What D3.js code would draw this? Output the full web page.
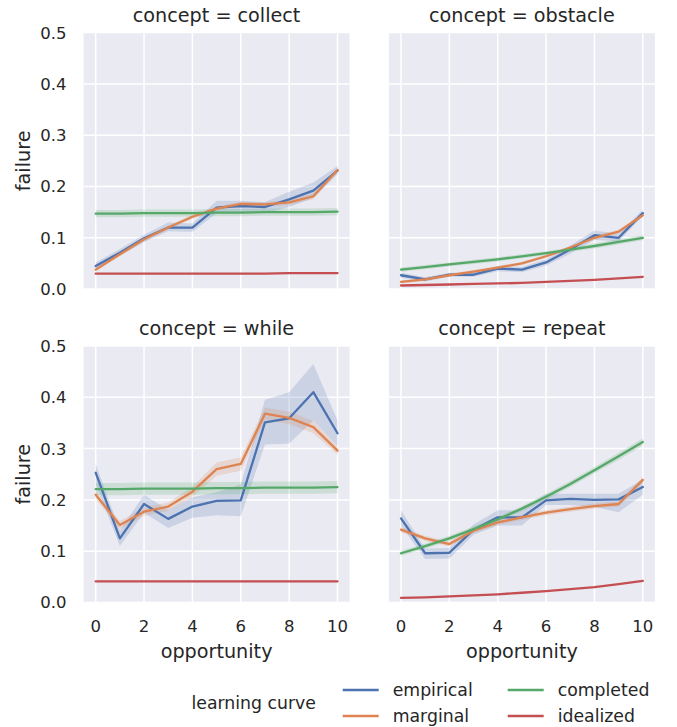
<!DOCTYPE html>
<html><head><meta charset="utf-8">
<script src="https://cdn.jsdelivr.net/npm/d3@7"></script>
<style>body{margin:0;background:#fff;} text{font-family:"DejaVu Sans",sans-serif;fill:#262626;}</style>
</head><body>
<svg id="chart" width="677" height="727"></svg>
<script>
const opportunity = [0,1,2,3,4,5,6,7,8,9,10];
const xTicks = [0,2,4,6,8,10];
const yTicks = [0,0.1,0.2,0.3,0.4,0.5];
const concepts = ["collect","obstacle","while","repeat"];
const seriesNames = ["empirical","marginal","completed","idealized"];
const seriesColors = ["#4c72b0","#dd8452","#55a868","#c44e52"];

// collect
const collectEmpirical   = [0.045,0.071,0.099,0.120,0.120,0.159,0.162,0.160,0.175,0.192,0.231];
const collectEmpiricalLo = [0.040,0.065,0.092,0.113,0.112,0.148,0.150,0.148,0.160,0.178,0.224];
const collectEmpiricalHi = [0.052,0.078,0.106,0.130,0.128,0.172,0.172,0.170,0.190,0.208,0.240];
const collectMarginal    = [0.038,0.068,0.097,0.120,0.141,0.157,0.166,0.165,0.169,0.181,0.232];
const collectMarginalErr = [0.004,0.004,0.004,0.004,0.004,0.004,0.004,0.004,0.005,0.006,0.005];
const collectCompleted   = [0.147,0.147,0.148,0.148,0.148,0.149,0.149,0.150,0.150,0.150,0.151];
const collectCompletedErr= [0.007,0.007,0.007,0.007,0.007,0.007,0.007,0.007,0.007,0.007,0.007];
const collectIdealized   = [0.030,0.030,0.030,0.030,0.030,0.030,0.030,0.030,0.031,0.031,0.031];

// obstacle
const obstacleEmpirical   = [0.027,0.019,0.028,0.028,0.040,0.038,0.052,0.077,0.105,0.100,0.148];
const obstacleEmpiricalLo = [0.022,0.015,0.024,0.024,0.035,0.033,0.046,0.069,0.096,0.093,0.142];
const obstacleEmpiricalHi = [0.032,0.023,0.032,0.032,0.045,0.043,0.058,0.085,0.114,0.108,0.155];
const obstacleMarginal    = [0.014,0.019,0.027,0.034,0.042,0.050,0.064,0.081,0.100,0.112,0.144];
const obstacleMarginalErr = [0.003,0.003,0.003,0.003,0.003,0.003,0.003,0.003,0.004,0.004,0.004];
const obstacleCompleted   = [0.038,0.043,0.048,0.053,0.058,0.064,0.070,0.077,0.084,0.092,0.100];
const obstacleCompletedErr= [0.004,0.004,0.004,0.004,0.004,0.004,0.004,0.004,0.005,0.005,0.005];
const obstacleIdealized   = [0.007,0.008,0.009,0.010,0.011,0.012,0.014,0.016,0.018,0.021,0.024];

// while
const whileEmpirical   = [0.253,0.125,0.192,0.163,0.187,0.198,0.199,0.351,0.359,0.410,0.330];
const whileEmpiricalLo = [0.232,0.110,0.175,0.145,0.165,0.170,0.168,0.308,0.310,0.355,0.305];
const whileEmpiricalHi = [0.270,0.140,0.210,0.180,0.205,0.215,0.230,0.395,0.410,0.465,0.355];
const whileMarginal    = [0.210,0.151,0.177,0.187,0.216,0.260,0.270,0.368,0.360,0.342,0.296];
const whileMarginalErr = [0.008,0.008,0.008,0.008,0.010,0.013,0.013,0.012,0.012,0.012,0.008];
const whileCompleted   = [0.221,0.221,0.222,0.222,0.222,0.223,0.223,0.224,0.224,0.224,0.225];
const whileCompletedErr= [0.012,0.012,0.012,0.012,0.012,0.012,0.012,0.012,0.012,0.012,0.012];
const whileIdealized   = [0.041,0.041,0.041,0.041,0.041,0.041,0.041,0.041,0.041,0.041,0.041];

// repeat
const repeatEmpirical   = [0.164,0.096,0.097,0.142,0.166,0.166,0.199,0.202,0.200,0.201,0.225];
const repeatEmpiricalLo = [0.150,0.085,0.086,0.132,0.150,0.150,0.190,0.190,0.186,0.176,0.210];
const repeatEmpiricalHi = [0.180,0.105,0.106,0.152,0.180,0.180,0.212,0.212,0.212,0.212,0.240];
const repeatMarginal    = [0.142,0.125,0.114,0.140,0.156,0.166,0.175,0.182,0.188,0.192,0.239];
const repeatMarginalErr = [0.005,0.005,0.005,0.005,0.005,0.005,0.005,0.005,0.005,0.005,0.006];
const repeatCompleted   = [0.096,0.110,0.125,0.143,0.162,0.183,0.206,0.231,0.258,0.285,0.313];
const repeatCompletedErr= [0.005,0.005,0.005,0.005,0.005,0.005,0.006,0.006,0.006,0.007,0.007];
const repeatIdealized   = [0.009,0.010,0.012,0.014,0.016,0.019,0.022,0.026,0.030,0.036,0.042];

function bandFromErr(v, e){ return {lo: v.map((d,i)=>d-e[i]), hi: v.map((d,i)=>d+e[i])}; }

const panelData = {
  collect: [
    {v: collectEmpirical, lo: collectEmpiricalLo, hi: collectEmpiricalHi},
    Object.assign({v: collectMarginal}, bandFromErr(collectMarginal, collectMarginalErr)),
    Object.assign({v: collectCompleted}, bandFromErr(collectCompleted, collectCompletedErr)),
    {v: collectIdealized}
  ],
  obstacle: [
    {v: obstacleEmpirical, lo: obstacleEmpiricalLo, hi: obstacleEmpiricalHi},
    Object.assign({v: obstacleMarginal}, bandFromErr(obstacleMarginal, obstacleMarginalErr)),
    Object.assign({v: obstacleCompleted}, bandFromErr(obstacleCompleted, obstacleCompletedErr)),
    {v: obstacleIdealized}
  ],
  while: [
    {v: whileEmpirical, lo: whileEmpiricalLo, hi: whileEmpiricalHi},
    Object.assign({v: whileMarginal}, bandFromErr(whileMarginal, whileMarginalErr)),
    Object.assign({v: whileCompleted}, bandFromErr(whileCompleted, whileCompletedErr)),
    {v: whileIdealized}
  ],
  repeat: [
    {v: repeatEmpirical, lo: repeatEmpiricalLo, hi: repeatEmpiricalHi},
    Object.assign({v: repeatMarginal}, bandFromErr(repeatMarginal, repeatMarginalErr)),
    Object.assign({v: repeatCompleted}, bandFromErr(repeatCompleted, repeatCompletedErr)),
    {v: repeatIdealized}
  ]
};

const svg = d3.select("#chart");
svg.append("rect").attr("width",677).attr("height",727).attr("fill","#fff");

const panelW = 266, panelH = 256.5;
const colX = [83.6, 388.9];
const rowY = [32.6, 346];

concepts.forEach((c, k) => {
  const col = k % 2, row = Math.floor(k / 2);
  const x0 = colX[col], y0 = rowY[row];
  const x = d3.scaleLinear().domain([-0.5, 10.5]).range([x0, x0 + panelW]);
  const y = d3.scaleLinear().domain([0, 0.5]).range([y0 + panelH, y0]);
  const g = svg.append("g");
  g.append("rect").attr("x", x0).attr("y", y0).attr("width", panelW).attr("height", panelH).attr("fill", "#eaeaf2");
  // grid
  g.selectAll(".gx").data(xTicks).enter().append("line")
    .attr("x1", d => x(d)).attr("x2", d => x(d)).attr("y1", y0).attr("y2", y0 + panelH)
    .attr("stroke", "#fff").attr("stroke-width", 1.5);
  g.selectAll(".gy").data(yTicks).enter().append("line")
    .attr("y1", d => y(d)).attr("y2", d => y(d)).attr("x1", x0).attr("x2", x0 + panelW)
    .attr("stroke", "#fff").attr("stroke-width", 1.5);

  const clipId = "clip" + k;
  svg.append("clipPath").attr("id", clipId).append("rect")
    .attr("x", x0).attr("y", y0).attr("width", panelW).attr("height", panelH);
  const plot = g.append("g").attr("clip-path", `url(#${clipId})`);

  const series = panelData[c];
  series.forEach((s, i) => {
    if (s.lo) {
      const area = d3.area().x((d, j) => x(opportunity[j])).y0((d, j) => y(s.lo[j])).y1((d, j) => y(s.hi[j]));
      plot.append("path").datum(s.v).attr("d", area).attr("fill", seriesColors[i]).attr("fill-opacity", 0.2);
    }
  });
  series.forEach((s, i) => {
    const line = d3.line().x((d, j) => x(opportunity[j])).y(d => y(d));
    plot.append("path").datum(s.v).attr("d", line).attr("fill", "none")
      .attr("stroke", seriesColors[i]).attr("stroke-width", 2.3).attr("stroke-linejoin", "round").attr("stroke-linecap", "round");
  });

  // title
  g.append("text").attr("x", x0 + panelW / 2).attr("y", y0 - 11)
    .attr("text-anchor", "middle").attr("font-size", 19.2).text("concept = " + c);

  // y axis labels (left column only)
  if (col === 0) {
    g.selectAll(".yl").data(yTicks).enter().append("text")
      .attr("x", x0 - 17).attr("y", d => y(d)).attr("dy", "0.36em")
      .attr("text-anchor", "end").attr("font-size", 16.5).text(d => d3.format(".1f")(d));
    g.append("text").attr("transform", `translate(${30},${y0 + panelH / 2}) rotate(-90)`)
      .attr("text-anchor", "middle").attr("font-size", 19.2).text("failure");
  }
  // x axis labels (bottom row only)
  if (row === 1) {
    g.selectAll(".xl").data(xTicks).enter().append("text")
      .attr("x", d => x(d)).attr("y", y0 + panelH + 29)
      .attr("text-anchor", "middle").attr("font-size", 16.5).text(d => d);
    g.append("text").attr("x", x0 + panelW / 2).attr("y", y0 + panelH + 55)
      .attr("text-anchor", "middle").attr("font-size", 19.2).text("opportunity");
  }
});

// legend
const leg = svg.append("g");
leg.append("text").attr("x", 191.5).attr("y", 708.5).attr("font-size", 17.3).text("learning curve");
const legPos = [[342.7, 690], [342.7, 716], [507.7, 690], [507.7, 716]];
seriesNames.forEach((n, i) => {
  const [lx, ly] = legPos[i];
  leg.append("line").attr("x1", lx).attr("x2", lx + 36).attr("y1", ly).attr("y2", ly)
    .attr("stroke", seriesColors[i]).attr("stroke-width", 2.3);
  leg.append("text").attr("x", lx + 50).attr("y", ly).attr("dy", "0.36em").attr("font-size", 17.3).text(n);
});
</script>
</body></html>
